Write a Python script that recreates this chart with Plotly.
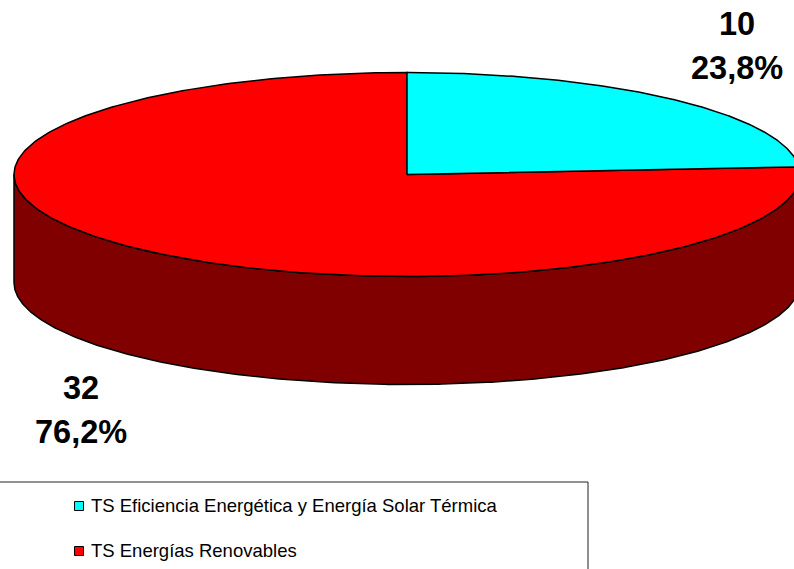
import numpy as np
import plotly.graph_objects as go

categories = ["TS Eficiencia Energética y Energía Solar Térmica", "TS Energías Renovables"]
values = [10, 32]
percent_labels = ["23,8%", "76,2%"]
top_colors = ["#00FFFF", "#FF0000"]
wall_color = "#800000"

W, H = 794, 569
CX, CY, RX, RY, DEPTH = 407, 174.5, 393, 102, 108

fractions = np.array(values) / sum(values)
edges = np.concatenate([[0], np.cumsum(fractions)]) * 2 * np.pi


def rim(a0, a1, n=300, dy=0.0):
    a = np.linspace(a0, a1, n)
    return CX + RX * np.sin(a), CY - RY * np.cos(a) + dy


fig = go.Figure()

# Side wall: the front half of the rim, extruded downward
wx0, wy0 = rim(np.pi / 2, 3 * np.pi / 2)
wx1, wy1 = rim(3 * np.pi / 2, np.pi / 2, dy=DEPTH)
fig.add_trace(go.Scatter(
    x=np.concatenate([wx0, wx1]), y=np.concatenate([wy0, wy1]),
    mode="lines", fill="toself", fillcolor=wall_color,
    line=dict(color="black", width=1.5), hoverinfo="skip", showlegend=False,
))

# Top slices, drawn from the values
for i in [1, 0]:
    sx, sy = rim(edges[i], edges[i + 1])
    fig.add_trace(go.Scatter(
        x=np.concatenate([[CX], sx, [CX]]), y=np.concatenate([[CY], sy, [CY]]),
        mode="lines", fill="toself", fillcolor=top_colors[i],
        line=dict(color="black", width=1.5), name=categories[i], showlegend=False,
    ))

# Legend swatches
legend_x = [79, 79]
legend_y = [506, 551]
fig.add_trace(go.Scatter(
    x=legend_x, y=legend_y, mode="markers",
    marker=dict(symbol="square", size=9, color=top_colors, line=dict(color="black", width=1)),
    hoverinfo="skip", showlegend=False,
))

annotations = []
for name, y in zip(categories, legend_y):
    annotations.append(dict(x=89, y=y - 1, text=name, showarrow=False, xanchor="left", yanchor="middle",
                            font=dict(family="Liberation Sans", size=18.5, color="black")))

label_pos = [(737, 24, 68), (81, 388, 432)]
for v, p, (x, y1, y2) in zip(values, percent_labels, label_pos):
    for t, y in ((str(v), y1), (p, y2)):
        annotations.append(dict(x=x, y=y, text=f"<b>{t}</b>", showarrow=False, xanchor="center", yanchor="middle",
                                font=dict(family="Liberation Sans", size=32.5, color="black")))

fig.update_layout(
    width=W, height=H, margin=dict(l=0, r=0, t=0, b=0),
    paper_bgcolor="white", plot_bgcolor="white", showlegend=False,
    xaxis=dict(range=[0, W], visible=False, fixedrange=True),
    yaxis=dict(range=[H, 0], visible=False, fixedrange=True),
    annotations=annotations,
    shapes=[dict(type="rect", x0=-5, x1=588, y0=482, y1=H + 10,
                 line=dict(color="#222222", width=1), fillcolor="rgba(0,0,0,0)", layer="below")],
)
fig.write_html("out.html", config={"displayModeBar": False},
               post_script="document.body.style.margin='0';document.body.style.overflow='hidden';")
